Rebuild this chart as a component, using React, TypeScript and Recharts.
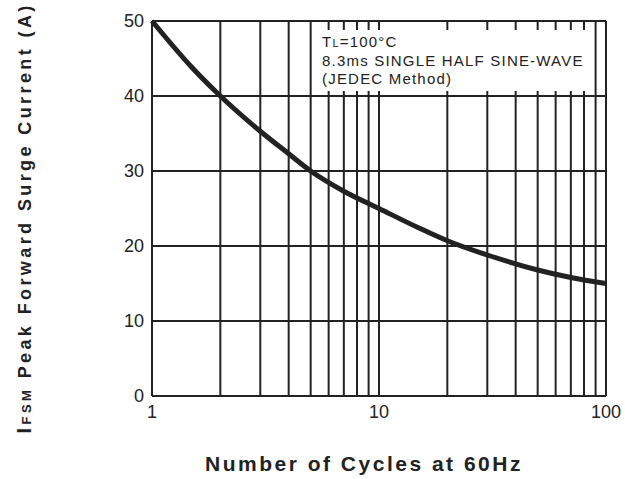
import React from 'react'
import { LineChart, Line, XAxis, YAxis, CartesianGrid } from 'recharts'

// cycles (log axis) and surge current
const cycles = [1, 1.5, 2, 3, 4, 5, 7, 10, 15, 20, 30, 50, 70, 100]
const currentA = [50, 43.8, 40, 35.3, 32.3, 30, 27.3, 25, 22.4, 20.7, 18.8, 16.8, 15.8, 15]

const xTicks = [1, 2, 3, 4, 5, 6, 7, 8, 9, 10, 20, 30, 40, 50, 60, 70, 80, 90, 100]
const xLabels = [1, 10, 100]
const yTicks = [0, 10, 20, 30, 40, 50]

const noteLines = ['8.3ms SINGLE HALF SINE-WAVE', '(JEDEC Method)']

const data = cycles.map((c, i) => ({ cycles: c, current: currentA[i] }))

const ink = '#222'
const font = 'Arial, "Liberation Sans", Helvetica, sans-serif'

export default function App() {
  return (
    <div style={{ position: 'absolute', left: 0, top: 0, width: 625, height: 479, background: '#fff', fontFamily: font }}>
      <LineChart
        width={625}
        height={479}
        data={data}
        margin={{ top: 21, right: 19, bottom: 53, left: 0 }}
      >
        <CartesianGrid stroke={ink} strokeWidth={2} />
        <XAxis
          dataKey="cycles"
          type="number"
          scale="log"
          domain={[1, 100]}
          ticks={xTicks}
          interval={0}
          height={30}
          tickLine={false}
          axisLine={{ stroke: ink, strokeWidth: 2 }}
          tickMargin={3}
          tickFormatter={(v: number) => (xLabels.includes(v) ? String(v) : '')}
          tick={{ fill: ink, fontSize: 18, fontFamily: font }}
        />
        <YAxis
          type="number"
          domain={[0, 50]}
          ticks={yTicks}
          width={152}
          tickLine={false}
          axisLine={{ stroke: ink, strokeWidth: 2 }}
          tickMargin={2}
          tick={{ fill: ink, fontSize: 18, fontFamily: font }}
        />
        <Line
          dataKey="current"
          type="monotone"
          stroke={ink}
          strokeWidth={5}
          dot={false}
          isAnimationActive={false}
        />
      </LineChart>

      <div
        style={{
          position: 'absolute',
          left: 315,
          top: 30,
          width: 274,
          height: 61,
          background: '#fff',
          color: ink,
          fontSize: 15,
          letterSpacing: 1.2,
          lineHeight: '18px',
          paddingLeft: 7,
          paddingTop: 3,
          boxSizing: 'border-box',
          whiteSpace: 'nowrap',
        }}
      >
        <div>
          T<span style={{ fontSize: 11 }}>L</span>=100°C
        </div>
        {noteLines.map((l) => (
          <div key={l}>{l}</div>
        ))}
      </div>

      <svg width={625} height={479} style={{ position: 'absolute', left: 0, top: 0, pointerEvents: 'none' }}>
        <text
          transform="translate(31 218) rotate(-90)"
          textAnchor="middle"
          fontFamily={font}
          fontWeight="bold"
          fontSize={18}
          letterSpacing={3.4}
          fill={ink}
        >
          <tspan fontSize={21}>I</tspan>
          <tspan fontSize={13}>FSM</tspan>
          <tspan> Peak Forward Surge Current (A)</tspan>
        </text>
        <text
          x={364}
          y={471}
          textAnchor="middle"
          fontFamily={font}
          fontWeight="bold"
          fontSize={21}
          letterSpacing={2.5}
          fill={ink}
        >
          Number of Cycles at 60Hz
        </text>
      </svg>
    </div>
  )
}
